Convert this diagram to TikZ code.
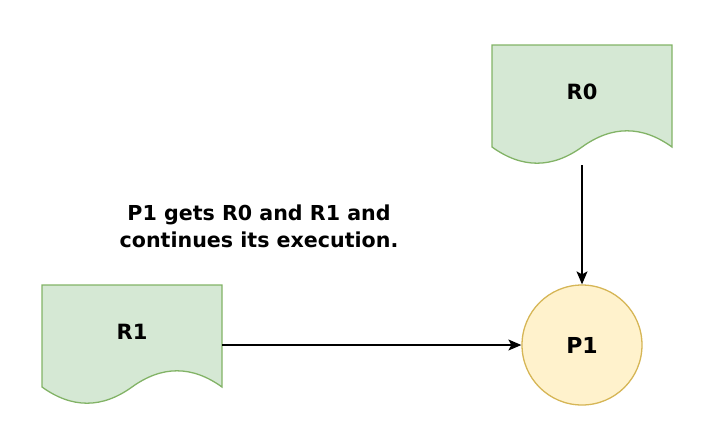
\documentclass[tikz,border=0pt]{standalone}
\usepackage{fontspec}
\setmainfont{DejaVu Sans}
\usetikzlibrary{arrows.meta,backgrounds}
\definecolor{docfill}{HTML}{D5E8D4}
\definecolor{docline}{HTML}{82B366}
\definecolor{procfill}{HTML}{FFF2CC}
\definecolor{procline}{HTML}{D6B656}
\tikzset{
  docbox/.style={rectangle, draw=none, minimum width=180pt, minimum height=120pt, inner sep=0pt, outer sep=0pt, font=\bfseries\fontsize{21}{25}\selectfont},
  docshape/.style={draw=docline, fill=docfill, line width=1.3pt},
  procnode/.style={circle, draw=procline, fill=procfill, line width=1.3pt, minimum size=120pt, inner sep=0pt, font=\bfseries\fontsize{22}{26}\selectfont},
  conn/.style={line width=1.3pt, -{Stealth[length=13pt, width=11pt, inset=3pt]}},
  note/.style={align=center, font=\bfseries\fontsize{20.6}{27}\selectfont}
}
\newcommand{\docpath}[1]{%
  \path[docshape] (#1.north west) -- (#1.north east) -- ++(0,102)
    .. controls ++(-30,-21.6) and ++(30,-21.6) .. ++(-90,0)
    .. controls ++(-30,21.6) and ++(30,21.6) .. ++(-90,0) -- cycle;}
\begin{document}
\begin{tikzpicture}[x=1pt,y=-1pt]
\useasboundingbox (0,0) rectangle (706,432);
\node[docbox] (r0) at (582,105) {\raisebox{26pt}{R0}};
\node[docbox] (r1) at (132,345) {\raisebox{26pt}{R1}};
\begin{pgfonlayer}{background}
\docpath{r0}
\docpath{r1}
\end{pgfonlayer}
\node[procnode] (p1) at (582,345) {P1};
\node[note] (txt) at (259,226) {P1 gets R0 and R1 and\\continues its execution.};
\draw[conn] (r0.south) -- (p1.north);
\draw[conn] (r1.east) -- (p1.west);
\end{tikzpicture}
\end{document}
